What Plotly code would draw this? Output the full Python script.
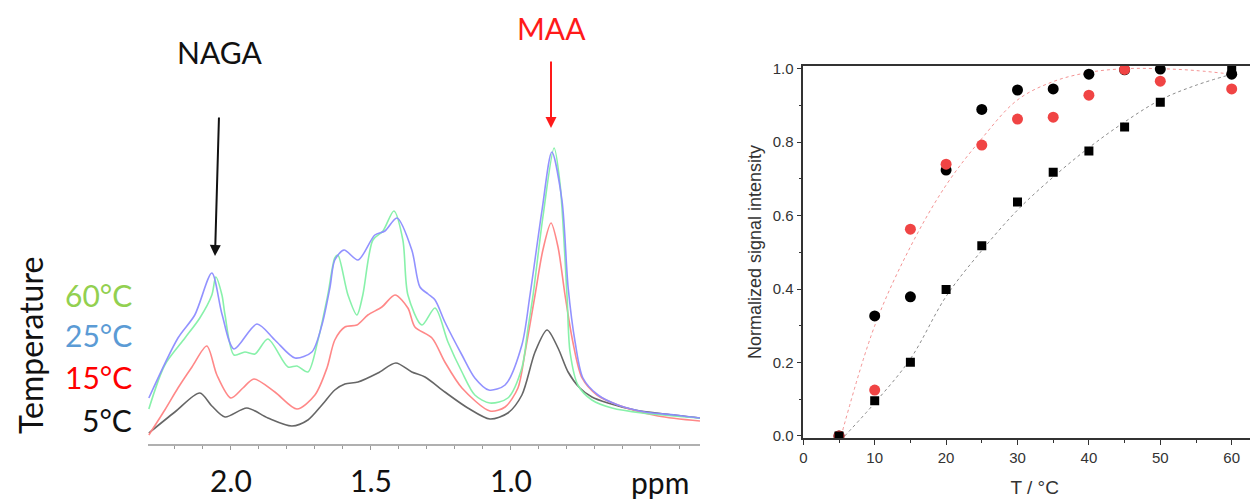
import plotly.graph_objects as go

# ---------------- Left panel: 1H NMR spectra (ppm vs intensity, a.u.) ----------------
ppm_5C = [2.293, 2.200, 2.111, 2.068, 2.021, 1.943, 1.868, 1.782, 1.725, 1.675, 1.629, 1.593,
          1.546, 1.475, 1.411, 1.354, 1.307, 1.236, 1.154, 1.075, 1.011, 0.961, 0.914, 0.871,
          0.832, 0.796, 0.754, 0.711, 0.654, 0.557, 0.450, 0.325]
int_5C = [0.11, 0.32, 0.51, 0.38, 0.27, 0.36, 0.26, 0.18, 0.24, 0.39, 0.54, 0.60,
          0.62, 0.71, 0.81, 0.72, 0.67, 0.52, 0.36, 0.25, 0.31, 0.49, 0.92, 1.14,
          0.96, 0.72, 0.56, 0.47, 0.41, 0.34, 0.30, 0.26]

ppm_15C = [2.293, 2.236, 2.189, 2.139, 2.086, 2.050, 2.000, 1.957, 1.918, 1.843, 1.764, 1.700,
           1.657, 1.629, 1.593, 1.550, 1.511, 1.461, 1.414, 1.368, 1.343, 1.282, 1.236, 1.175,
           1.075, 1.021, 0.975, 0.950, 0.914, 0.886, 0.857, 0.832, 0.807, 0.779, 0.746, 0.693,
           0.618, 0.475, 0.325]
int_15C = [0.09, 0.34, 0.56, 0.77, 0.98, 0.69, 0.46, 0.56, 0.65, 0.52, 0.35, 0.49,
           0.76, 1.04, 1.17, 1.19, 1.29, 1.37, 1.49, 1.36, 1.17, 1.06, 0.82, 0.56,
           0.33, 0.37, 0.56, 0.91, 1.49, 1.94, 2.21, 1.97, 1.49, 1.02, 0.66, 0.49,
           0.39, 0.28, 0.23]

ppm_60C = [2.293, 2.236, 2.164, 2.111, 2.068, 2.054, 2.032, 2.021, 1.989, 1.950, 1.914, 1.868,
           1.796, 1.764, 1.725, 1.689, 1.654, 1.629, 1.618, 1.582, 1.550, 1.529, 1.493, 1.457,
           1.418, 1.386, 1.368, 1.318, 1.271, 1.225, 1.175, 1.129, 1.075, 1.011, 0.961, 0.939,
           0.921, 0.886, 0.846, 0.825, 0.800, 0.789, 0.761, 0.711, 0.639, 0.532, 0.325]
int_60C = [0.35, 0.79, 1.06, 1.26, 1.49, 1.67, 1.49, 1.29, 0.89, 0.92, 0.90, 1.05,
           0.77, 0.78, 0.72, 1.04, 1.49, 1.86, 1.89, 1.49, 1.29, 1.49, 2.04, 2.13,
           2.33, 2.04, 1.49, 1.19, 1.36, 1.02, 0.72, 0.49, 0.41, 0.46, 0.76, 1.16,
           1.49, 2.27, 2.96, 2.61, 1.49, 0.92, 0.59, 0.44, 0.36, 0.31, 0.26]

ppm_25C = [2.293, 2.189, 2.129, 2.068, 2.032, 1.989, 1.907, 1.843, 1.771, 1.711, 1.675, 1.646,
           1.629, 1.596, 1.546, 1.486, 1.450, 1.407, 1.354, 1.325, 1.296, 1.271, 1.236, 1.175,
           1.129, 1.079, 1.021, 0.961, 0.932, 0.889, 0.854, 0.818, 0.796, 0.771, 0.743, 0.689,
           0.618, 0.521, 0.414, 0.325]
int_25C = [0.46, 1.06, 1.29, 1.71, 1.30, 0.95, 1.20, 1.04, 0.86, 0.92, 1.19, 1.57,
           1.84, 1.94, 1.84, 2.09, 2.13, 2.26, 1.94, 1.57, 1.50, 1.44, 1.22, 0.89,
           0.66, 0.54, 0.59, 0.99, 1.49, 2.34, 2.92, 2.44, 1.57, 1.02, 0.66, 0.49,
           0.39, 0.32, 0.29, 0.26]

ppm_ticks = [2.0, 1.5, 1.0]
ppm_tick_labels = ["2.0", "1.5", "1.0"]
temp_labels = ["60°C", "25°C", "15°C", "5°C"]

# ---------------- Right panel: normalized signal intensity vs T ----------------
T = [5, 10, 15, 20, 25, 30, 35, 40, 45, 50, 60]
black_circles = [0.0, 0.327, 0.379, 0.724, 0.889, 0.942, 0.945, 0.985, 0.997, 0.999, 0.985]
red_circles = [0.0, 0.125, 0.563, 0.740, 0.792, 0.863, 0.868, 0.928, 0.998, 0.966, 0.945]
black_squares = [0.0, 0.096, 0.201, 0.399, 0.518, 0.637, 0.718, 0.776, 0.841, 0.909, 1.0]

fit_red_T = [5.3, 10, 15, 20, 25, 30, 35, 40, 45, 50, 55, 60]
fit_red_y = [0.0, 0.30, 0.515, 0.683, 0.81, 0.915, 0.965, 0.99, 1.0, 1.0, 0.995, 0.985]
fit_black_T = [5.8, 10, 15, 20, 25, 30, 35, 40, 45, 50, 55, 60]
fit_black_y = [0.0, 0.09, 0.21, 0.38, 0.505, 0.615, 0.705, 0.785, 0.855, 0.915, 0.955, 0.985]

W, H = 1258, 499
OFF = 8  # default page body margin of the HTML page
LEFT_FONT = "Lato, 'Open Sans', sans-serif"
RIGHT_FONT = "Arial, 'Liberation Sans', sans-serif"

fig = go.Figure()

spec_style = [
    (ppm_5C, int_5C, "rgba(85,85,85,0.9)", "5°C"),
    (ppm_15C, int_15C, "rgba(255,130,130,0.95)", "15°C"),
    (ppm_60C, int_60C, "rgba(130,240,165,0.95)", "60°C"),
    (ppm_25C, int_25C, "rgba(140,140,255,0.95)", "25°C"),
]
for xs, ys, col, name in spec_style:
    fig.add_trace(go.Scatter(x=xs, y=ys, mode="lines", name=name,
                             line=dict(color=col, width=1.6, shape="spline", smoothing=0.8),
                             xaxis="x", yaxis="y", showlegend=False, hoverinfo="skip"))

# fits
fig.add_trace(go.Scatter(x=fit_red_T, y=fit_red_y, mode="lines",
                         line=dict(color="rgba(240,120,120,0.8)", width=1, dash="dot",
                                   shape="spline", smoothing=1.0),
                         xaxis="x2", yaxis="y2", showlegend=False))
fig.add_trace(go.Scatter(x=fit_black_T, y=fit_black_y, mode="lines",
                         line=dict(color="rgba(110,110,110,0.8)", width=1, dash="dot",
                                   shape="spline", smoothing=1.0),
                         xaxis="x2", yaxis="y2", showlegend=False))
fig.add_trace(go.Scatter(x=T, y=black_circles, mode="markers",
                         marker=dict(symbol="circle", size=11, color="#000000"),
                         xaxis="x2", yaxis="y2", showlegend=False))
fig.add_trace(go.Scatter(x=T, y=red_circles, mode="markers",
                         marker=dict(symbol="circle", size=11, color="#f04444"),
                         xaxis="x2", yaxis="y2", showlegend=False))
fig.add_trace(go.Scatter(x=T, y=black_squares, mode="markers",
                         marker=dict(symbol="square", size=9, color="#000000"),
                         xaxis="x2", yaxis="y2", showlegend=False))

def px(x):
    return (x - OFF) / W

def py(y):
    return 1 - (y - OFF) / H

def label(text, x, y, size, color, **kw):
    d = dict(text=text, x=px(x), y=py(y), xref="paper", yref="paper", showarrow=False,
             xanchor="center", yanchor="middle",
             font=dict(family=LEFT_FONT, size=size, color=color))
    d.update(kw)
    return d

annotations = [
    label("NAGA", 219, 52, 30, "#111111"),
    label("MAA", 551, 28, 30, "#ff1a1a"),
    dict(text="", x=px(215), y=py(256), xref="paper", yref="paper", showarrow=True,
         ax=4, ay=-140, axref="pixel", ayref="pixel",
         arrowhead=2, arrowsize=1.1, arrowwidth=2, arrowcolor="#111111"),
    dict(text="", x=px(551), y=py(128), xref="paper", yref="paper", showarrow=True,
         ax=0, ay=-68, axref="pixel", ayref="pixel",
         arrowhead=2, arrowsize=1.1, arrowwidth=2, arrowcolor="#ff1a1a"),
    label("Temperature", 30, 346, 32, "#111111", textangle=-90),
    label("ppm", 660, 482, 30, "#111111"),
]
temp_colors = ["#92d050", "#5b9bd5", "#ff0000", "#111111"]
temp_y = [295, 335, 377, 420]
for lab, col, yy in zip(temp_labels, temp_colors, temp_y):
    annotations.append(label(lab, 134, yy, 30, col, xanchor="right"))

x2_px_per_unit = (1231.7 - 803.3) / 60.0
x2_max = (W + OFF - 803.3) / x2_px_per_unit

fig.update_layout(
    width=W, height=H,
    margin=dict(l=0, r=0, t=0, b=0, autoexpand=False),
    paper_bgcolor="white", plot_bgcolor="white",
    showlegend=False,
    xaxis=dict(domain=[px(148), px(700)], range=[2.296, 0.325], anchor="y", automargin=False,
               showgrid=False, zeroline=False, showline=True, linecolor="#b0b0b0", linewidth=2,
               ticks="outside", ticklen=4, tickwidth=1, tickcolor="#999999",
               tickmode="array", tickvals=ppm_ticks, ticktext=ppm_tick_labels,
               minor=dict(tickmode="linear", tick0=0, dtick=0.1, ticks="outside", ticklen=3,
                          tickwidth=1, tickcolor="#999999", showgrid=False),
               tickfont=dict(family=LEFT_FONT, size=30, color="#111111"),
               ticklabelstandoff=6),
    yaxis=dict(domain=[py(444), py(100)], range=[0, 3.44], visible=False, anchor="x",
               automargin=False),
    xaxis2=dict(domain=[px(803.3), 1.0], range=[0, x2_max], anchor="y2", automargin=False,
                showgrid=False, zeroline=False, showline=True, mirror=True,
                linecolor="#333333", linewidth=1.5,
                ticks="outside", ticklen=5, tickwidth=1.2, tickcolor="#333333",
                tick0=0, dtick=10,
                minor=dict(dtick=5, ticks="outside", ticklen=3, tickwidth=1, tickcolor="#333333",
                           showgrid=False),
                tickfont=dict(family=RIGHT_FONT, size=15, color="#333333"),
                title=dict(text="T / °C", font=dict(family=RIGHT_FONT, size=19, color="#333333"),
                           standoff=16)),
    yaxis2=dict(domain=[py(438.3), py(65.7)], range=[-0.0063, 1.0082], anchor="x2",
                automargin=False,
                showgrid=False, zeroline=False, showline=True, mirror=False,
                linecolor="#333333", linewidth=1.5,
                ticks="outside", ticklen=5, tickwidth=1.2, tickcolor="#333333",
                tick0=0, dtick=0.2, tickformat=".1f",
                minor=dict(dtick=0.1, ticks="outside", ticklen=3, tickwidth=1, tickcolor="#333333",
                           showgrid=False),
                tickfont=dict(family=RIGHT_FONT, size=15, color="#333333"),
                title=dict(text="Normalized signal intensity",
                           font=dict(family=RIGHT_FONT, size=18, color="#333333"),
                           standoff=6)),
    annotations=annotations,
)

fig.write_html("out.html")
